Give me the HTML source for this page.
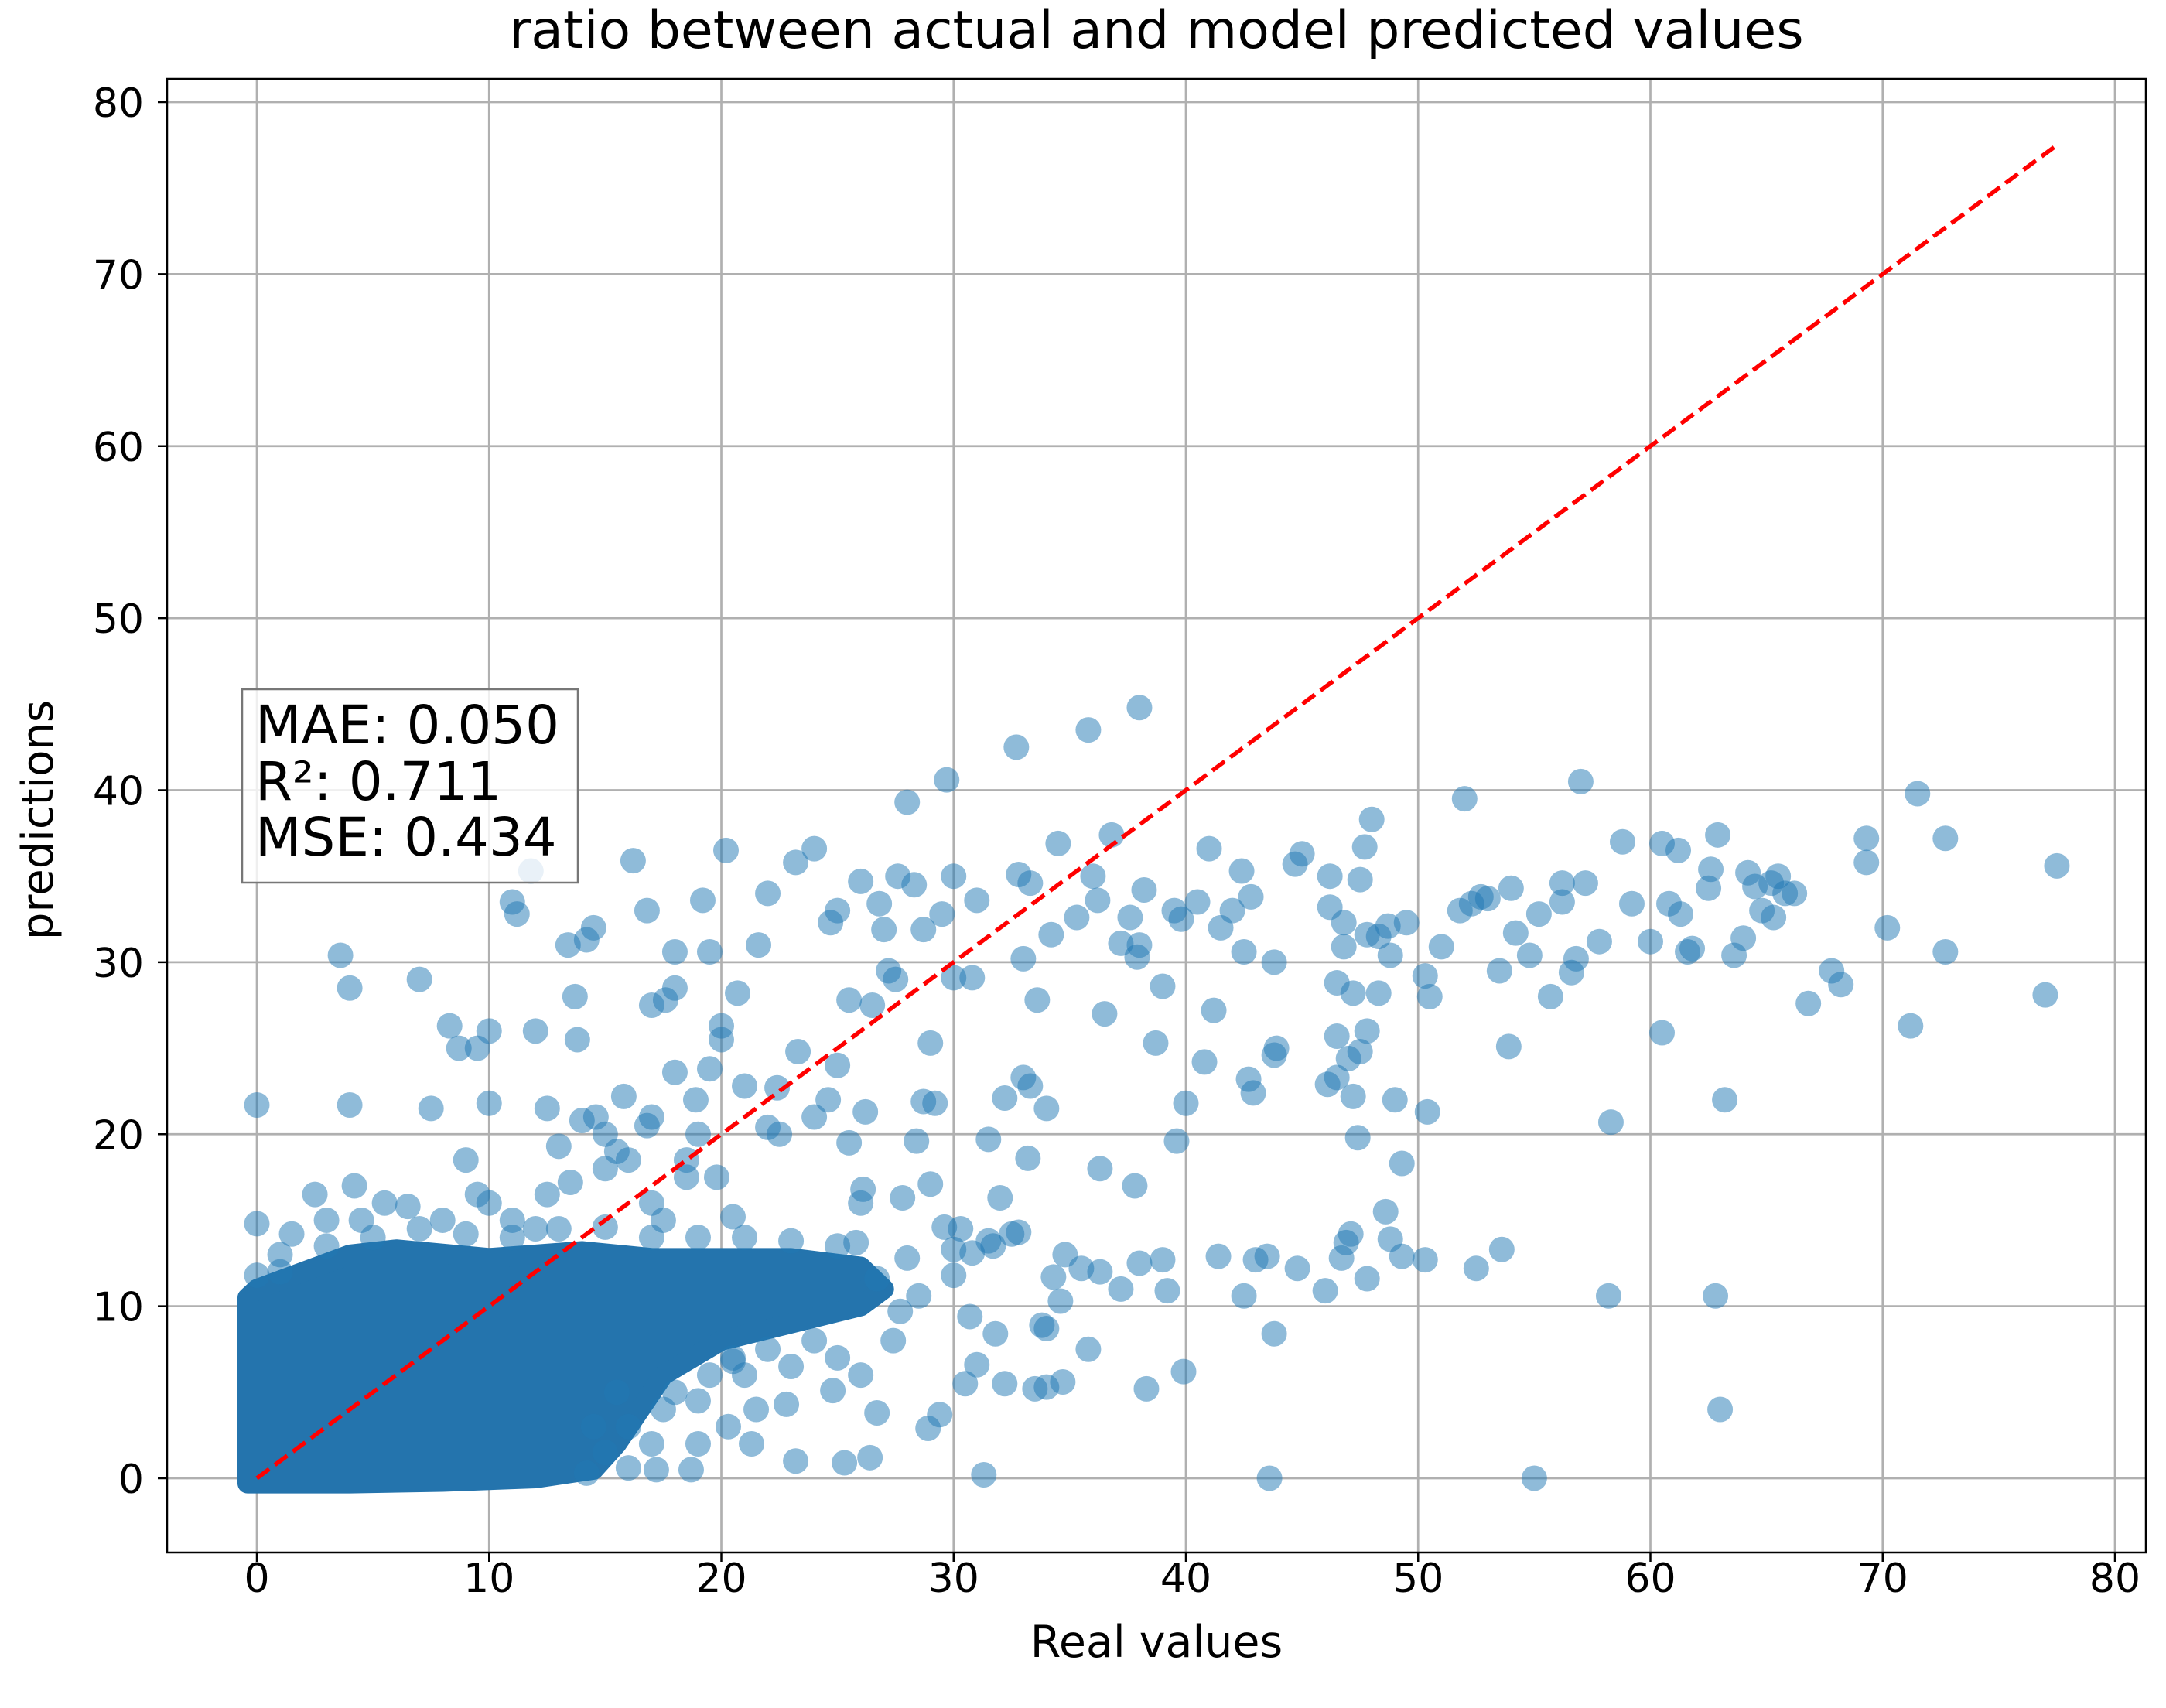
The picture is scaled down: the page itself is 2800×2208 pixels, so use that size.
<!DOCTYPE html>
<html><head><meta charset="utf-8"><style>
html,body{margin:0;padding:0;background:#fff;}
svg{display:block;font-family:"DejaVu Sans","Liberation Sans",sans-serif;}
</style></head><body>
<svg id="chart" width="2800" height="2208" viewBox="0 0 2800 2208" xmlns="http://www.w3.org/2000/svg">
<rect width="2800" height="2208" fill="#fff"/>
<text x="1495" y="62" font-size="68" text-anchor="middle" fill="#000">ratio between actual and model predicted values</text>
<g id="grid"></g>
<g id="blob"></g>
<g id="pts"></g>
<g id="ideal"></g>
<rect x="216" y="102" width="2558" height="1905" fill="none" stroke="#000" stroke-width="2.5"/>
<g id="ticks"></g>
<text x="1495" y="2142" font-size="57" text-anchor="middle">Real values</text>
<text x="0" y="0" font-size="56" text-anchor="middle" transform="translate(68,1060) rotate(-90)">predictions</text>
<g>
<rect x="313" y="891" width="434" height="250" fill="#fff" fill-opacity="0.8" stroke="#777" stroke-width="2.5"/>
<text x="330" y="961" font-size="69">MAE: 0.050</text>
<text x="330" y="1034" font-size="69">R²: 0.711</text>
<text x="330" y="1106" font-size="69">MSE: 0.434</text>
</g>
</svg>
<script>
const xTicks=[0,10,20,30,40,50,60,70,80];
const yTicks=[0,10,20,30,40,50,60,70,80];
const idealLine=[0,77.5];
const blobOutline=[[-0.4,-0.3],[-0.4,10.5],[0,11],[2,12],[4,13],[6,13.3],[10,12.8],[14,13.2],[17,12.8],[20,12.8],[23,12.8],[26,12.3],[27,11],[26,10],[23,9],[20,8],[17.5,6],[16.5,4],[15.5,2],[14.5,0.5],[12,0],[8,-0.2],[4,-0.3],[-0.4,-0.3]];
const pointsX=[0,0,0,3.6,4,7,4,4.2,7.5,8.3,8.7,10,10,9.5,11,11.2,11.8,12,12.5,13.4,13.7,13.8,14.2,14.5,14.6,15,15.8,16.2,16.8,17.6,18,18,18,19.2,19.5,20,20.2,20,20.7,21.6,22,22.5,23.2,24,24.7,25,25.5,26,26.8,27,27.2,27.6,28,28.3,29.5,29.7,30,28.7,26.5,27.5,29,30,30.8,31,32.7,32.8,33.3,33,33.6,34.2,34.5,35.3,35.8,36,36.2,36.5,36.8,37.2,37.6,38,38,38.2,37.9,38.7,39,39.5,39.8,40.5,41,41.5,42,42.4,42.8,42.5,43.8,44.7,45,46.2,46.2,46.8,46.5,46.8,47.2,47.5,47.7,48,47.8,48.3,48.7,48.8,48.3,49.5,50.3,50.5,51,51.8,52,52.3,52.7,53,53.5,54,54.2,54.8,55.2,55.7,56.2,56.2,56.6,56.8,57,57.2,57.8,58.8,59.2,60,60.5,60.8,61.2,61.3,61.6,61.8,62.5,62.6,62.9,63.6,64,64.2,64.5,64.8,65.2,65.5,65.3,65.8,66.2,66.8,67.8,68.2,69.3,69.3,70.2,71.2,71.5,72.7,72.7,77,77.5,
17,21,22,22.4,23.3,24,24.6,25,25.5,26.2,26.1,27.8,28.4,28.7,29.2,29,29.6,30.3,30.8,31.7,32.2,31.5,32,33,33.3,33.2,34,34.8,34.3,34.6,36.3,35.5,36.3,37.8,37.2,38,39,39.2,39.6,40,40.8,41.2,41.4,42.5,42.7,42.9,43,43.5,43.8,43.9,43.8,44.8,46,46.1,46.5,46.5,47,47.2,47.4,47.5,47.8,46.7,46.9,47.1,47.8,48.6,48.8,49,49.3,49.3,50.3,50.4,52.5,53.6,53.9,58.2,58.3,60.5,62.8,63,63.2,55,43.6,31.3,31,32.2,33.5,34,34.7,35.8,34,33.8,38.3,39.9,30.7,31.8,30.5,29.4,28.9,26.4,25.3,23.2,21.3,20.3,18.7,17.2,16,14.2,20.5,22.8,24.8,26,27.4,28.5,26.7,27.7,26.7,25.8,30,31.5,32.5,32.8,30,28,26,
2.5,3,4.5,5.5,6.5,8,9,9.5,10,11,12.5,13,14,15,16,17,17.5,18.5,19,19.5,18.9,19.8,20.5,15.5,13.5,12,16.8,1,1.5,17,18.5,
14.5,15,16,17,17.5,18,19,15.5,19.5,20.5,21,22,24,25,23,21.5,19,
1,3,5,7,9,11,13,15,17,19,21,23,25];
const pointsY=[21.7,14.8,11.8,30.4,28.5,29,21.7,17,21.5,26.3,25,26,21.8,25,33.5,32.8,35.3,26,21.5,31,28,25.5,31.3,32,21,20,22.2,35.9,33,27.8,28.5,30.6,23.6,33.6,30.6,26.3,36.5,25.5,28.2,31,34,20,35.8,36.6,32.3,33,27.8,34.7,33.4,31.9,29.5,35,39.3,34.5,32.8,40.6,35,31.9,27.5,29,25.3,29.1,29.1,33.6,42.5,35.1,34.6,30.2,27.8,31.6,36.9,32.6,43.5,35,33.6,27,37.4,31.1,32.6,44.8,31,34.2,30.3,25.3,28.6,33,32.5,33.5,36.6,32,33,35.3,33.8,30.6,30,35.7,36.3,35,33.2,32.3,28.8,30.9,28.2,34.8,36.7,38.3,31.6,31.5,32.1,30.4,28.2,32.3,29.2,28,30.9,33,39.5,33.4,33.8,33.7,29.5,34.3,31.7,30.4,32.8,28,34.6,33.5,29.4,30.2,40.5,34.6,31.2,37,33.4,31.2,36.9,33.4,36.5,32.8,30.6,30.8,34.3,35.4,37.4,30.4,31.4,35.2,34.4,33,34.6,35,32.6,34,34,27.6,29.5,28.7,37.2,35.8,32,26.3,39.8,37.2,30.6,28.1,35.6,
27.5,22.8,20.4,22.7,24.8,21,22,24,19.5,21.3,16.8,16.3,19.6,21.9,21.8,17.1,14.6,14.5,13.1,13.5,22.1,19.7,16.3,23.3,22.8,18.6,21.5,13,11.7,10.3,18,12.2,12,17,11,12.5,12.7,10.9,19.6,21.8,24.2,27.2,12.9,10.6,23.2,22.4,12.7,12.9,24.6,25,8.4,12.2,10.9,22.9,23.3,25.7,24.4,22.2,19.8,24.8,26,12.8,13.7,14.2,11.6,15.5,13.9,22,18.3,12.9,12.7,21.3,12.2,13.3,25.1,10.6,20.7,25.9,10.6,4,22,0,0,0.2,6.6,5.5,5.2,5.3,5.6,7.5,8.7,8.9,5.2,6.2,9.4,8.4,5.5,3.7,2.9,1.2,0.9,1,2,3,0.5,0.5,0.6,0.3,6.8,4.3,5.1,6,8,10.6,3.8,9.7,11.6,13.7,13.3,13.8,14.2,14.3,11.8,12.8,16,
16.5,15,15,16,15.8,15,18.5,16.5,16,15,16.5,19.3,20.8,18,18.5,16,15,18.5,20,23.8,22,17.5,15.2,19,17.2,14.5,20.5,13,14.2,21,17.5,
3,1.5,3,2,4,5,4.5,5,6,7,6,7.5,8,7,6.5,4,2,
12,13.5,14,14.5,14.2,14,14.5,14.6,14,14,14,13.8,13.5];

const NS='http://www.w3.org/2000/svg';
const X0=332,X80=2734,Y0=1911,Y80=132,L=216,R=2774,T=102,B=2007;
const sx=v=>X0+(X80-X0)*v/80, sy=v=>Y0+(Y80-Y0)*v/80;
function mk(tag,attrs,parent){const e=document.createElementNS(NS,tag);for(const k in attrs)e.setAttribute(k,attrs[k]);parent.appendChild(e);return e;}
const grid=document.getElementById('grid'),ticks=document.getElementById('ticks');
xTicks.forEach(t=>{
  const g=mk('line',{x1:sx(t),x2:sx(t),y1:T,y2:B,stroke:'#b0b0b0','stroke-width':2.7},grid);
  
  
  const tk=mk('line',{x1:sx(t),x2:sx(t),y1:B,y2:B+12,stroke:'#000','stroke-width':2.5},ticks);
  
  
  const lb=mk('text',{x:sx(t),y:2058,'font-size':52,'text-anchor':'middle'},ticks);
  lb.textContent=t;
  
  
});
yTicks.forEach(t=>{
  const g=mk('line',{x1:L,x2:R,y1:sy(t),y2:sy(t),stroke:'#b0b0b0','stroke-width':2.7},grid);
  
  
  const tk=mk('line',{x1:L-12,x2:L,y1:sy(t),y2:sy(t),stroke:'#000','stroke-width':2.5},ticks);
  
  
  const lb=mk('text',{x:L-30,y:sy(t)+19,'font-size':52,'text-anchor':'end'},ticks);
  lb.textContent=t;
  
  
});
const blob=document.getElementById('blob');
const bp=mk('path',{d:'M'+blobOutline.map(p=>sx(p[0])+','+sy(p[1])).join('L')+'Z',fill:'#2474ad',stroke:'#2474ad','stroke-width':26,'stroke-linejoin':'round'},blob);


const pts=document.getElementById('pts');
pointsX.forEach((x,i)=>{
  const c=mk('circle',{cx:sx(x),cy:sy(pointsY[i]),r:16.5,fill:'#1f77b4','fill-opacity':0.5},pts);
  
  
});
const ideal=document.getElementById('ideal');
const ln=mk('line',{x1:sx(idealLine[0]),y1:sy(idealLine[0]),x2:sx(idealLine[1]),y2:sy(idealLine[1]),stroke:'#ff0000','stroke-width':5.5,'stroke-dasharray':'20 9'},ideal);


</script>
</body></html>
